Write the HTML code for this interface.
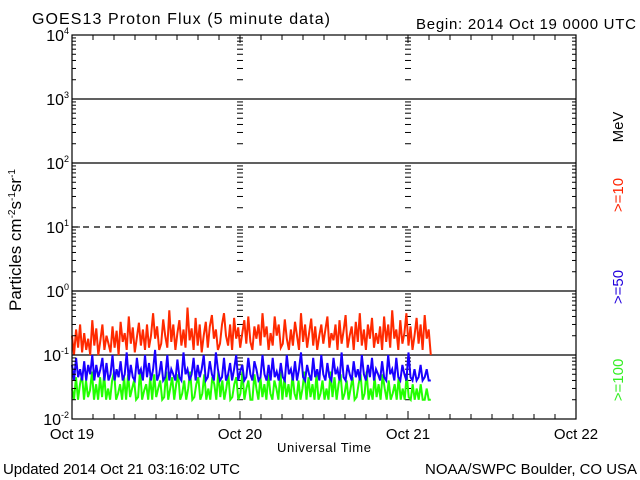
<!DOCTYPE html>
<html><head><meta charset="utf-8"><style>
body{margin:0;background:#fff;}
svg{display:block;font-family:"Liberation Sans",sans-serif;}
</style></head><body>
<svg id="c" width="640" height="480">
<text x="32" y="24" font-size="16" textLength="298">GOES13 Proton Flux (5 minute data)</text>
<text x="416" y="29" font-size="15" textLength="220">Begin: 2014 Oct 19 0000 UTC</text>
<text x="3" y="474" font-size="15" textLength="237">Updated 2014 Oct 21 03:16:02 UTC</text>
<text x="425" y="474" font-size="15" textLength="212">NOAA/SWPC Boulder, CO USA</text>
<text x="277" y="452" font-size="13" textLength="94">Universal Time</text>
<text transform="translate(21,240) rotate(-90)" text-anchor="middle" font-size="17">Particles cm<tspan dy="-6" font-size="10">-2</tspan><tspan dy="6">s</tspan><tspan dy="-6" font-size="10">-1</tspan><tspan dy="6">sr</tspan><tspan dy="-6" font-size="10">-1</tspan></text>
<text transform="translate(623,127) rotate(-90)" text-anchor="middle" font-size="15" fill="#000">MeV</text>
<text transform="translate(623,195) rotate(-90)" text-anchor="middle" font-size="15" fill="#ff2200">&gt;=10</text>
<text transform="translate(623,287) rotate(-90)" text-anchor="middle" font-size="15" fill="#2200dd">&gt;=50</text>
<text transform="translate(623,380) rotate(-90)" text-anchor="middle" font-size="15" fill="#33ee22">&gt;=100</text>
<g id="grid"></g><g id="series"></g><g id="axes"></g>
</svg>
<script>
const xTicks=["Oct 19","Oct 20","Oct 21","Oct 22"];
const yExps=[-2,-1,0,1,2,3,4];
const hoursSpan=51.25;
const p10=[0.2,0.1,0.25,0.13,0.3,0.11,0.22,0.12,0.18,0.1,0.35,0.14,0.26,0.1,0.17,0.3,0.12,0.2,0.15,0.11,0.28,0.13,0.24,0.1,0.33,0.16,0.22,0.12,0.4,0.15,0.27,0.11,0.19,0.32,0.14,0.25,0.12,0.3,0.13,0.2,0.45,0.18,0.28,0.12,0.15,0.36,0.2,0.13,0.5,0.16,0.3,0.12,0.22,0.35,0.14,0.25,0.13,0.55,0.17,0.26,0.12,0.38,0.14,0.3,0.11,0.2,0.33,0.13,0.28,0.42,0.18,0.25,0.12,0.15,0.3,0.45,0.2,0.14,0.3,0.12,0.38,0.18,0.27,0.13,0.22,0.35,0.15,0.4,0.16,0.12,0.28,0.18,0.3,0.14,0.45,0.19,0.28,0.12,0.22,0.14,0.4,0.2,0.3,0.13,0.15,0.36,0.18,0.12,0.25,0.14,0.33,0.2,0.12,0.45,0.16,0.3,0.13,0.22,0.37,0.14,0.28,0.12,0.2,0.3,0.15,0.25,0.4,0.13,0.22,0.17,0.3,0.12,0.35,0.15,0.24,0.42,0.13,0.2,0.28,0.12,0.33,0.16,0.45,0.14,0.25,0.12,0.3,0.18,0.38,0.13,0.22,0.15,0.28,0.12,0.4,0.16,0.3,0.13,0.5,0.18,0.25,0.12,0.35,0.15,0.22,0.45,0.14,0.28,0.12,0.2,0.38,0.15,0.3,0.12,0.42,0.18,0.25,0.1];
const p50=[0.07,0.04,0.09,0.045,0.06,0.04,0.08,0.04,0.07,0.05,0.1,0.04,0.07,0.045,0.06,0.09,0.04,0.075,0.04,0.05,0.1,0.04,0.06,0.045,0.08,0.04,0.05,0.11,0.04,0.07,0.045,0.04,0.09,0.05,0.06,0.04,0.1,0.045,0.075,0.04,0.06,0.12,0.04,0.05,0.08,0.04,0.045,0.1,0.04,0.06,0.05,0.04,0.085,0.045,0.04,0.11,0.05,0.06,0.04,0.05,0.09,0.04,0.07,0.045,0.06,0.1,0.04,0.045,0.08,0.05,0.04,0.11,0.06,0.04,0.045,0.09,0.04,0.05,0.075,0.04,0.06,0.1,0.04,0.055,0.07,0.04,0.045,0.09,0.05,0.04,0.08,0.06,0.04,0.045,0.1,0.05,0.04,0.07,0.04,0.09,0.045,0.055,0.04,0.075,0.045,0.04,0.1,0.05,0.06,0.04,0.08,0.04,0.06,0.11,0.045,0.04,0.07,0.05,0.04,0.09,0.045,0.06,0.04,0.1,0.05,0.04,0.075,0.045,0.04,0.09,0.05,0.06,0.04,0.11,0.045,0.04,0.07,0.05,0.04,0.08,0.045,0.06,0.04,0.1,0.05,0.04,0.07,0.045,0.09,0.04,0.06,0.05,0.04,0.08,0.045,0.04,0.1,0.05,0.06,0.04,0.09,0.045,0.04,0.07,0.05,0.04,0.11,0.045,0.04,0.06,0.04,0.045,0.07,0.04,0.045,0.06,0.04,0.04];
const p100=[0.03,0.02,0.045,0.02,0.035,0.05,0.02,0.04,0.022,0.028,0.055,0.02,0.035,0.02,0.045,0.022,0.05,0.02,0.03,0.02,0.04,0.055,0.02,0.025,0.035,0.02,0.045,0.02,0.05,0.022,0.03,0.04,0.02,0.022,0.06,0.02,0.028,0.035,0.02,0.045,0.02,0.05,0.022,0.03,0.04,0.02,0.022,0.055,0.02,0.03,0.045,0.02,0.035,0.05,0.02,0.025,0.04,0.02,0.03,0.055,0.02,0.022,0.035,0.045,0.02,0.025,0.05,0.02,0.03,0.02,0.045,0.035,0.02,0.055,0.022,0.04,0.02,0.03,0.05,0.02,0.022,0.035,0.045,0.02,0.025,0.055,0.02,0.03,0.04,0.02,0.02,0.05,0.03,0.02,0.045,0.022,0.035,0.02,0.05,0.025,0.02,0.04,0.03,0.02,0.055,0.02,0.045,0.022,0.035,0.02,0.05,0.025,0.02,0.04,0.02,0.03,0.055,0.02,0.045,0.022,0.035,0.02,0.05,0.02,0.025,0.04,0.02,0.03,0.02,0.055,0.022,0.045,0.02,0.035,0.05,0.02,0.025,0.04,0.02,0.03,0.045,0.02,0.022,0.035,0.05,0.02,0.025,0.055,0.02,0.03,0.02,0.045,0.022,0.035,0.02,0.05,0.03,0.02,0.04,0.02,0.025,0.035,0.02,0.045,0.02,0.03,0.02,0.05,0.022,0.02,0.035,0.02,0.03,0.02,0.035,0.02,0.02,0.03,0.02,0.02];
const NS="http://www.w3.org/2000/svg";
const L=72,R=576,T=35,B=419;
const xs=h=>L+(R-L)*h/72;
const ys=v=>B-(Math.log10(v)+2)*(B-T)/6;
function mk(tag,attrs,parent){const e=document.createElementNS(NS,tag);for(const k in attrs)e.setAttribute(k,attrs[k]);parent.appendChild(e);return e;}
const grid=document.getElementById('grid'),axes=document.getElementById('axes'),ser=document.getElementById('series');
yExps.forEach(e=>{
  if(e===-2||e===4)return;
  const y=ys(Math.pow(10,e));
  const ln=mk('line',{x1:L,x2:R,y1:y,y2:y,stroke:'#000','stroke-width':1.2,'stroke-dasharray':e===1?'6,5':'none'},grid);
  
  
});
[1,2].forEach(d=>{
  const x=xs(d*24);
  for(let e=-2;e<4;e++){for(let m=2;m<=9;m++){const y=ys(m*Math.pow(10,e));
    const t=mk('line',{x1:x-3,x2:x+3,y1:y,y2:y,stroke:'#000'},grid);
    
    }}
});
function draw(arr,color,name){
  const n=arr.length;let pts=[];
  arr.forEach((v,i)=>{pts.push(xs(i*hoursSpan/(n-1)).toFixed(1)+','+ys(v).toFixed(1));});
  const p=mk('polyline',{points:pts.join(' '),fill:'none',stroke:color,'stroke-width':2,'stroke-linejoin':'miter'},ser);
  
  
}
draw(p100,'#22ff00','series-100mev');
draw(p50,'#1a00ff','series-50mev');
draw(p10,'#ff2a00','series-10mev');
const fr=mk('rect',{x:L,y:T,width:R-L,height:B-T,fill:'none',stroke:'#000','stroke-width':1.2},axes);


yExps.forEach(e=>{
  const y=ys(Math.pow(10,e));
  const tl=mk('line',{x1:L,x2:L+8,y1:y,y2:y,stroke:'#000'},axes);
  
  
  const tx=mk('text',{x:L-3,y:y+6,'text-anchor':'end','font-size':16},axes);
  
  
  tx.innerHTML='10<tspan dy="-7" font-size="9">'+e+'</tspan>';
  if(e<4)for(let m=2;m<=9;m++){const yy=ys(m*Math.pow(10,e));
    [[L,L+4],[R-4,R]].forEach(([a,b])=>{const t=mk('line',{x1:a,x2:b,y1:yy,y2:yy,stroke:'#000'},axes);
      
      });}
});
for(let h=0;h<=72;h+=3){
  const x=xs(h);const len=h%24===0?8:5;
  [[B,B-len],[T,T+len]].forEach(([a,b])=>{const t=mk('line',{x1:x,x2:x,y1:a,y2:b,stroke:'#000'},axes);
    
    });
}
xTicks.forEach((s,i)=>{
  const t=mk('text',{x:xs(i*24),y:439,'text-anchor':'middle','font-size':15},axes);
  
  
  t.textContent=s;
});
</script>
</body></html>
